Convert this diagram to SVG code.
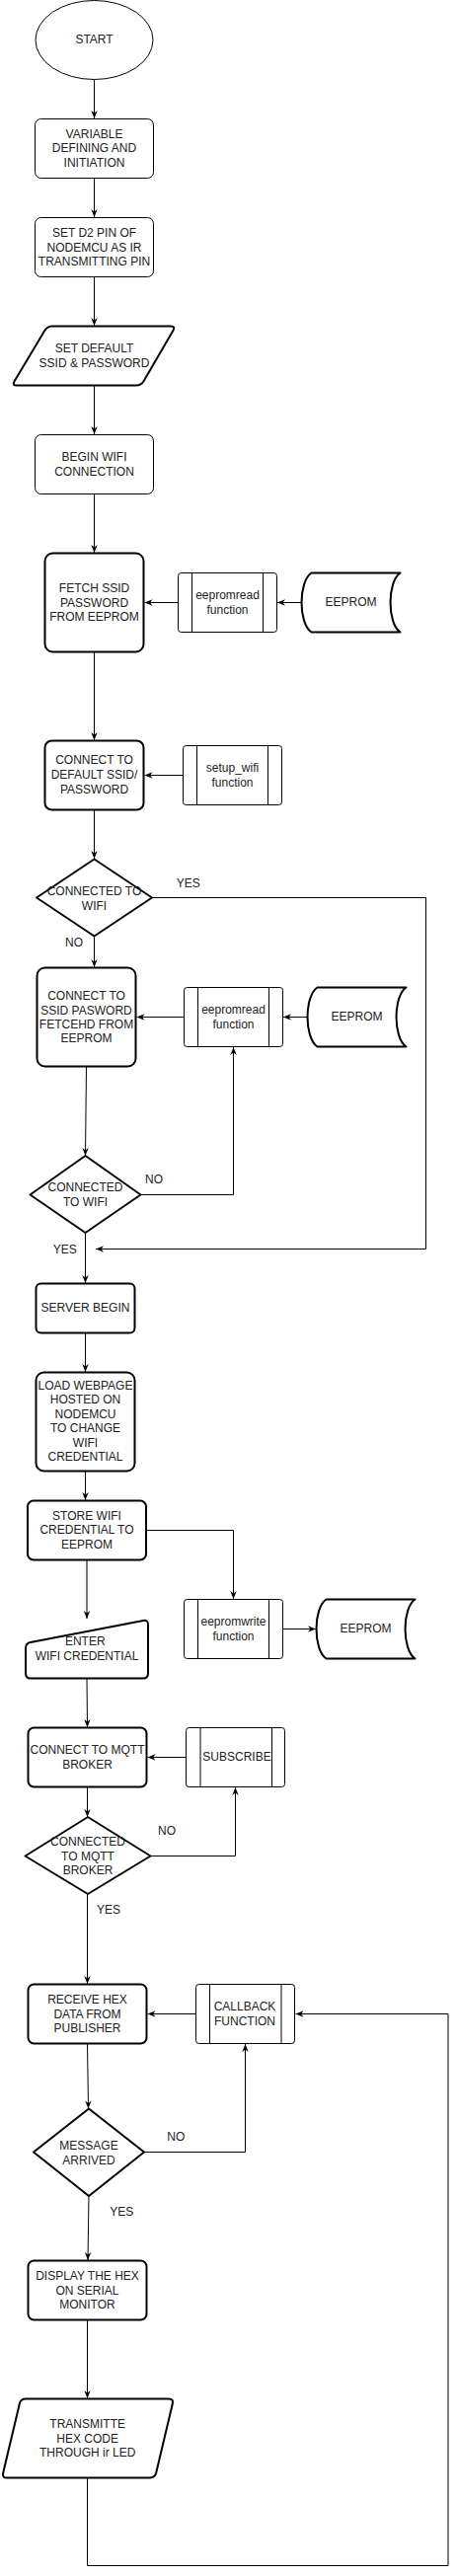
<svg xmlns="http://www.w3.org/2000/svg" width="463" height="2610" viewBox="0 0 463 2610">
<style>
.bg{fill:#fff}
.n{fill:#fff;stroke:#000;stroke-width:1;stroke-linejoin:round}
.k{fill:#fff;stroke:#000;stroke-width:2;stroke-linejoin:round}
.il{stroke:#000;stroke-width:1}
.t{font-family:"Liberation Sans",Arial,sans-serif;font-size:12px;fill:#222;text-anchor:middle}
.c{fill:none;stroke:#000;stroke-width:1}
.ca{fill:none;stroke:#000;stroke-width:1;marker-end:url(#a)}
</style>
<defs>
<marker id="a" viewBox="0 0 10 10" refX="10" refY="5" markerWidth="8" markerHeight="8" markerUnits="userSpaceOnUse" orient="auto">
<path d="M0,1 L10,5 L0,9 L3,5 Z" fill="#000"/>
</marker>
</defs>
<rect class="bg" x="0" y="0" width="463" height="2610"/>

<g id="connectors">
<path class="ca" d="M95.5,80.5 V120"/>
<path class="ca" d="M95.5,180.5 V220"/>
<path class="ca" d="M95.5,280.5 V330"/>
<path class="ca" d="M95.5,390.5 V440"/>
<path class="ca" d="M95.5,500.5 V560"/>
<path class="ca" d="M305.5,610.5 H281"/>
<path class="ca" d="M180.5,610.5 H146.5"/>
<path class="ca" d="M95.5,660.5 V750"/>
<path class="ca" d="M185.5,785.5 H146.5"/>
<path class="ca" d="M95.5,820.5 V870"/>
<path class="ca" d="M95.5,948.5 V980"/>
<path class="ca" d="M154,909.5 H431.5 V1265.5 H97"/>
<path class="ca" d="M311.5,1030.5 H287"/>
<path class="ca" d="M186.5,1030.5 H138.5"/>
<path class="ca" d="M87.5,1080.5 L86.5,1171"/>
<path class="ca" d="M142.5,1210.5 H236.5 V1061"/>
<path class="ca" d="M86.5,1249 V1300"/>
<path class="ca" d="M86.5,1350.5 V1390"/>
<path class="ca" d="M86.5,1490.5 V1520"/>
<path class="ca" d="M148,1550.5 H236.5 V1620"/>
<path class="ca" d="M286.5,1650.5 H320"/>
<path class="ca" d="M88,1580.5 V1640"/>
<path class="ca" d="M88,1700.5 L88.5,1750"/>
<path class="ca" d="M188.5,1780.5 H149.5"/>
<path class="ca" d="M88.5,1810.5 V1841"/>
<path class="ca" d="M152.5,1880.5 H238.5 V1811"/>
<path class="ca" d="M88.5,1919 V2010"/>
<path class="ca" d="M198.5,2040.5 H149.5"/>
<path class="ca" d="M88.5,2070.5 L89.5,2136.5"/>
<path class="ca" d="M146,2180.5 H248.5 V2071"/>
<path class="ca" d="M90,2225 L89,2290"/>
<path class="ca" d="M88.5,2350.5 V2430"/>
<path class="ca" d="M88.5,2510.5 V2599.5 H454 V2040.5 H299.5"/>
</g>

<g id="labels">
<text class="t" x="190.7" y="898.5">YES</text>
<text class="t" x="75" y="958.5">NO</text>
<text class="t" x="156" y="1198.5">NO</text>
<text class="t" x="65.7" y="1269.5">YES</text>
<text class="t" x="169" y="1858.5">NO</text>
<text class="t" x="110" y="1939">YES</text>
<text class="t" x="178.3" y="2169">NO</text>
<text class="t" x="123.3" y="2245">YES</text>
</g>

<g id="start">
<ellipse class="n" cx="95.5" cy="40.5" rx="59.5" ry="40"/>
<text class="t" x="95.5" y="44">START</text>
</g>

<g id="variable">
<rect class="n" x="35.5" y="120.5" width="120" height="60" rx="6"/>
<text class="t" x="95.5" y="139.5">VARIABLE</text>
<text class="t" x="95.5" y="154">DEFINING AND</text>
<text class="t" x="95.5" y="168.5">INITIATION</text>
</g>

<g id="setd2">
<rect class="n" x="35.5" y="220.5" width="120" height="60" rx="6"/>
<text class="t" x="95.5" y="240">SET D2 PIN OF</text>
<text class="t" x="95.5" y="254.5">NODEMCU AS IR</text>
<text class="t" x="95.5" y="268.5">TRANSMITTING PIN</text>
</g>

<g id="setdefault">
<path class="k" d="M53,330.5 L173,330.5 Q178,330.5 175.5,334.8 L145.5,386.2 Q143,390.5 138,390.5 L17,390.5 Q12,390.5 14.6,386.2 L45.4,334.8 Q48,330.5 53,330.5 Z"/>
<text class="t" x="95.5" y="356.5">SET DEFAULT</text>
<text class="t" x="95.5" y="371.5">SSID &amp; PASSWORD</text>
</g>

<g id="beginwifi">
<rect class="n" x="35.5" y="440.5" width="120" height="60" rx="6"/>
<text class="t" x="95.5" y="466.5">BEGIN WIFI</text>
<text class="t" x="95.5" y="481.5">CONNECTION</text>
</g>

<g id="fetch">
<rect class="k" x="45.5" y="560.5" width="100" height="100" rx="8"/>
<text class="t" x="95.5" y="600">FETCH SSID</text>
<text class="t" x="95.5" y="614.5">PASSWORD</text>
<text class="t" x="95.5" y="629">FROM EEPROM</text>
</g>

<g id="eepromread1">
<rect class="n" x="180.5" y="580.5" width="100" height="60" rx="3"/>
<line class="il" x1="194.5" y1="580.5" x2="194.5" y2="640.5"/>
<line class="il" x1="266.5" y1="580.5" x2="266.5" y2="640.5"/>
<text class="t" x="230.5" y="607">eepromread</text>
<text class="t" x="230.5" y="622">function</text>
</g>

<g id="eeprom1">
<path class="k" d="M315.5,580.5 L405.5,580.5 C392.2,589.5 392.2,631.5 405.5,640.5 L315.5,640.5 C302.2,631.5 302.2,589.5 315.5,580.5 Z"/>
<text class="t" x="355.5" y="614">EEPROM</text>
</g>

<g id="connectdefault">
<rect class="k" x="45.5" y="750.5" width="100" height="70" rx="7"/>
<text class="t" x="95.5" y="774">CONNECT TO</text>
<text class="t" x="95.5" y="789">DEFAULT SSID/</text>
<text class="t" x="95.5" y="803.5">PASSWORD</text>
</g>

<g id="setupwifi">
<rect class="n" x="185.5" y="755.5" width="100" height="60" rx="3"/>
<line class="il" x1="199.5" y1="755.5" x2="199.5" y2="815.5"/>
<line class="il" x1="271.5" y1="755.5" x2="271.5" y2="815.5"/>
<text class="t" x="235.5" y="782">setup_wifi</text>
<text class="t" x="235.5" y="797">function</text>
</g>

<g id="decision1">
<polygon class="k" points="95.5,870.5 154,909.5 95.5,948.5 37,909.5"/>
<text class="t" x="95.5" y="907">CONNECTED TO</text>
<text class="t" x="95.5" y="921.5">WIFI</text>
</g>

<g id="connectssid">
<rect class="k" x="37.5" y="980.5" width="100" height="100" rx="8"/>
<text class="t" x="87.5" y="1013">CONNECT TO</text>
<text class="t" x="87.5" y="1027.5">SSID PASWORD</text>
<text class="t" x="87.5" y="1042">FETCEHD FROM</text>
<text class="t" x="87.5" y="1056">EEPROM</text>
</g>

<g id="eepromread2">
<rect class="n" x="186.5" y="1000.5" width="100" height="60" rx="3"/>
<line class="il" x1="200.5" y1="1000.5" x2="200.5" y2="1060.5"/>
<line class="il" x1="272.5" y1="1000.5" x2="272.5" y2="1060.5"/>
<text class="t" x="236.5" y="1026.5">eepromread</text>
<text class="t" x="236.5" y="1041.5">function</text>
</g>

<g id="eeprom2">
<path class="k" d="M321.5,1000.5 L411.5,1000.5 C398.2,1009.5 398.2,1051.5 411.5,1060.5 L321.5,1060.5 C308.2,1051.5 308.2,1009.5 321.5,1000.5 Z"/>
<text class="t" x="361.5" y="1034">EEPROM</text>
</g>

<g id="decision2">
<polygon class="k" points="86.5,1171 142.5,1210.5 86.5,1249 30.5,1210.5"/>
<text class="t" x="86.5" y="1207">CONNECTED</text>
<text class="t" x="86.5" y="1221.5">TO WIFI</text>
</g>

<g id="serverbegin">
<rect class="k" x="36.5" y="1300.5" width="100" height="50" rx="5"/>
<text class="t" x="86.5" y="1328.5">SERVER BEGIN</text>
</g>

<g id="loadwebpage">
<rect class="k" x="36.5" y="1390.5" width="100" height="100" rx="8"/>
<text class="t" x="86.5" y="1408">LOAD WEBPAGE</text>
<text class="t" x="86.5" y="1422">HOSTED ON</text>
<text class="t" x="86.5" y="1436.5">NODEMCU</text>
<text class="t" x="86.5" y="1451">TO CHANGE</text>
<text class="t" x="86.5" y="1465.5">WIFI</text>
<text class="t" x="86.5" y="1480">CREDENTIAL</text>
</g>

<g id="store">
<rect class="k" x="28" y="1520.5" width="120" height="60" rx="6"/>
<text class="t" x="88" y="1539.5">STORE WIFI</text>
<text class="t" x="88" y="1554">CREDENTIAL TO</text>
<text class="t" x="88" y="1568.5">EEPROM</text>
</g>

<g id="eepromwrite">
<rect class="n" x="186.5" y="1620.5" width="100" height="60" rx="3"/>
<line class="il" x1="200.5" y1="1620.5" x2="200.5" y2="1680.5"/>
<line class="il" x1="272.5" y1="1620.5" x2="272.5" y2="1680.5"/>
<text class="t" x="236.5" y="1647">eepromwrite</text>
<text class="t" x="236.5" y="1662">function</text>
</g>

<g id="eeprom3">
<path class="k" d="M330.5,1620.5 L420.5,1620.5 C407.2,1629.5 407.2,1671.5 420.5,1680.5 L330.5,1680.5 C317.2,1671.5 317.2,1629.5 330.5,1620.5 Z"/>
<text class="t" x="370.5" y="1654">EEPROM</text>
</g>

<g id="enterwifi">
<path class="k" d="M30.9,1664.05 L145.1,1641.95 Q150,1641 150,1646 L150,1695.5 Q150,1700.5 145,1700.5 L31,1700.5 Q26,1700.5 26,1695.5 L26,1670 Q26,1665 30.9,1664.05 Z"/>
<text class="t" x="86.3" y="1666.5">ENTER</text>
<text class="t" x="88" y="1681.5">WIFI CREDENTIAL</text>
</g>

<g id="mqtt">
<rect class="k" x="28.5" y="1750.5" width="120" height="60" rx="6"/>
<text class="t" x="88.5" y="1776.5">CONNECT TO MQTT</text>
<text class="t" x="88.5" y="1792">BROKER</text>
</g>

<g id="subscribe">
<rect class="n" x="188.5" y="1750.5" width="100" height="60" rx="3"/>
<line class="il" x1="203" y1="1750.5" x2="203" y2="1810.5"/>
<line class="il" x1="275.5" y1="1750.5" x2="275.5" y2="1810.5"/>
<text class="t" x="240" y="1783.5">SUBSCRIBE</text>
</g>

<g id="decision3">
<polygon class="k" points="89,1841 152.5,1880.5 89,1919 25.5,1880.5"/>
<text class="t" x="89" y="1870">CONNECTED</text>
<text class="t" x="89" y="1884.5">TO MQTT</text>
<text class="t" x="89" y="1899">BROKER</text>
</g>

<g id="receive">
<rect class="k" x="28.5" y="2010.5" width="120" height="60" rx="6"/>
<text class="t" x="88.5" y="2030">RECEIVE HEX</text>
<text class="t" x="88.5" y="2044.5">DATA FROM</text>
<text class="t" x="88.5" y="2059">PUBLISHER</text>
</g>

<g id="callback">
<rect class="n" x="198.5" y="2010.5" width="100" height="60" rx="3"/>
<line class="il" x1="212.5" y1="2010.5" x2="212.5" y2="2070.5"/>
<line class="il" x1="285" y1="2010.5" x2="285" y2="2070.5"/>
<text class="t" x="248" y="2036.5">CALLBACK</text>
<text class="t" x="248" y="2052">FUNCTION</text>
</g>

<g id="decision4">
<polygon class="k" points="90,2136.5 146,2180.5 90,2225 34,2180.5"/>
<text class="t" x="90" y="2178">MESSAGE</text>
<text class="t" x="90" y="2193">ARRIVED</text>
</g>

<g id="display">
<rect class="k" x="28.5" y="2290.5" width="120" height="60" rx="6"/>
<text class="t" x="88.5" y="2310">DISPLAY THE HEX</text>
<text class="t" x="88.5" y="2324.5">ON SERIAL</text>
<text class="t" x="88.5" y="2339">MONITOR</text>
</g>

<g id="transmit">
<path class="k" d="M26,2430.5 L171,2430.5 Q176,2430.5 174.8,2435.4 L158.2,2505.6 Q157,2510.5 152,2510.5 L7,2510.5 Q2,2510.5 3.2,2505.6 L19.8,2435.4 Q21,2430.5 26,2430.5 Z"/>
<text class="t" x="88.7" y="2460">TRANSMITTE</text>
<text class="t" x="88.7" y="2474.5">HEX CODE</text>
<text class="t" x="88.7" y="2489">THROUGH ir LED</text>
</g>
</svg>
